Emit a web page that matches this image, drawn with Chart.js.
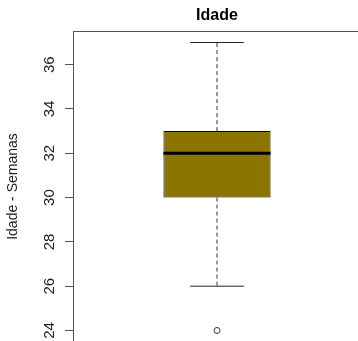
<!DOCTYPE html>
<html>
<head>
<meta charset="utf-8">
<script src="https://cdn.jsdelivr.net/npm/chart.js@4/dist/chart.umd.min.js"></script>
<style>
  html, body { margin: 0; padding: 0; background: #fff; overflow: hidden; }
  #chartBox { position: absolute; left: 0; top: 0; }
</style>
</head>
<body>
<canvas id="chartBox" width="361" height="342"></canvas>
<script>
// dados do boxplot
const categorias = ['Idade'];
const limiteInf = [26];
const quartil1 = [30];
const mediana = [32];
const quartil3 = [33];
const limiteSup = [37];
const outliers = [24];
const yTicks = [24, 26, 28, 30, 32, 34, 36];

const corCaixa = '#8B7500';
const corEixo = '#555';

// bigodes, hastes e mediana desenhados sobre as escalas do Chart.js
const bigodes = {
  id: 'bigodes',
  afterDatasetsDraw(chart) {
    const { ctx, scales: { x, y } } = chart;
    const barras = chart.getDatasetMeta(0).data;
    ctx.save();
    categorias.forEach((c, i) => {
      const cx = x.getPixelForValue(i);
      const larg = barras[i].width;
      const meia = larg / 2;
      const cap = larg * 0.25;

      ctx.strokeStyle = '#333';
      ctx.lineWidth = 1;
      ctx.setLineDash([4, 3]);
      ctx.beginPath();
      ctx.moveTo(cx, y.getPixelForValue(quartil3[i]));
      ctx.lineTo(cx, y.getPixelForValue(limiteSup[i]));
      ctx.moveTo(cx, y.getPixelForValue(quartil1[i]));
      ctx.lineTo(cx, y.getPixelForValue(limiteInf[i]));
      ctx.stroke();

      ctx.setLineDash([]);
      ctx.strokeStyle = '#222';
      ctx.beginPath();
      ctx.moveTo(cx - cap, y.getPixelForValue(limiteSup[i]));
      ctx.lineTo(cx + cap, y.getPixelForValue(limiteSup[i]));
      ctx.moveTo(cx - cap, y.getPixelForValue(limiteInf[i]));
      ctx.lineTo(cx + cap, y.getPixelForValue(limiteInf[i]));
      ctx.stroke();

      ctx.strokeStyle = '#000';
      ctx.lineWidth = 3;
      ctx.beginPath();
      ctx.moveTo(cx - meia, y.getPixelForValue(mediana[i]));
      ctx.lineTo(cx + meia, y.getPixelForValue(mediana[i]));
      ctx.stroke();
    });
    // moldura do gráfico
    const a = chart.chartArea;
    ctx.strokeStyle = corEixo;
    ctx.lineWidth = 1;
    ctx.strokeRect(a.left + 0.5, a.top + 0.5, a.right - a.left, a.bottom - a.top);
    ctx.restore();
  }
};

new Chart(document.getElementById('chartBox'), {
  data: {
    labels: categorias,
    datasets: [{
      type: 'bar',
      data: categorias.map((c, i) => [quartil1[i], quartil3[i]]),
      backgroundColor: corCaixa,
      borderColor: '#000',
      borderWidth: 1,
      borderSkipped: false,
      barPercentage: 0.372,
      categoryPercentage: 1
    }, {
      type: 'line',
      data: outliers,
      showLine: false,
      pointRadius: 3,
      pointBackgroundColor: '#fff',
      pointBorderColor: '#333',
      pointBorderWidth: 1
    }]
  },
  options: {
    responsive: false,
    animation: false,
    devicePixelRatio: 1,
    layout: { padding: 0, autoPadding: false },
    plugins: {
      legend: { display: false },
      tooltip: { enabled: false },
      title: {
        display: true,
        text: 'Idade',
        fullSize: false,
        color: '#000',
        font: { family: 'Liberation Sans, Arial, sans-serif', size: 16, weight: 'bold' },
        padding: { top: 5.5, bottom: 6.3 }
      }
    },
    scales: {
      x: {
        type: 'category', display: false, offset: true,
        afterFit: s => { s.paddingLeft = 0; s.paddingRight = 0; }
      },
      y: {
        min: 23.48,
        max: 37.52,
        afterBuildTicks: s => { s.ticks = yTicks.map(v => ({ value: v })); },
        afterFit: s => {
          s.width = 73;
          s.paddingTop = 0; s.paddingBottom = 0;
          s.paddingLeft = 0; s.paddingRight = 0;
        },
        grid: { drawOnChartArea: false, tickLength: 8, color: corEixo },
        border: { display: true, color: corEixo },
        ticks: {
          minRotation: 90,
          maxRotation: 90,
          crossAlign: 'center',
          padding: 7,
          color: '#222',
          font: { family: 'Liberation Sans, Arial, sans-serif', size: 15 }
        },
        title: {
          display: true,
          text: 'Idade - Semanas',
          color: '#222',
          padding: { top: 5, bottom: 0 },
          font: { family: 'Liberation Sans, Arial, sans-serif', size: 14 }
        }
      }
    }
  },
  plugins: [bigodes]
});
</script>
</body>
</html>
